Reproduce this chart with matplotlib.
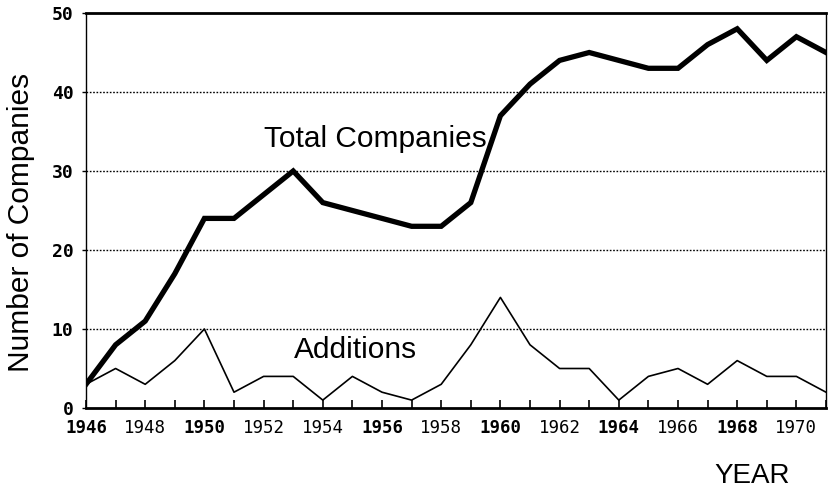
import matplotlib
matplotlib.use("Agg")
import matplotlib.pyplot as plt

years = list(range(1946, 1972))
total_companies = [3, 8, 11, 17, 24, 24, 27, 30, 26, 25, 24, 23, 23, 26, 37, 41,
                   44, 45, 44, 43, 43, 46, 48, 44, 47, 45]
additions = [3, 5, 3, 6, 10, 2, 4, 4, 1, 4, 2, 1, 3, 8, 14, 8,
             5, 5, 1, 4, 5, 3, 6, 4, 4, 2]
xtick_labels = ["1946", "1948", "1950", "1952", "1954", "1956", "1958", "1960",
                "1962", "1964", "1966", "1968", "1970"]
bold_labels = {"1946", "1950", "1956", "1960", "1964", "1968"}
ytick_labels = ["0", "10", "20", "30", "40", "50"]

fig = plt.figure(figsize=(8.33, 4.92), dpi=100)
ax = fig.add_axes([86/833, 1 - 408/492, (826-86)/833, (408-13)/492])

ax.plot(years, total_companies, color="black", lw=3.8, solid_joinstyle="miter")
ax.plot(years, additions, color="black", lw=1.2)

ax.set_xlim(1946, 1971)
ax.set_ylim(0, 50)

for yv in [10, 20, 30, 40]:
    ax.axhline(yv, color="black", lw=1.0, ls=(0, (1.2, 1.2)), zorder=0)

ax.set_xticks(years, minor=True)
ax.set_xticks([int(l) for l in xtick_labels])
ax.set_xticklabels(xtick_labels, family="DejaVu Sans Mono", fontsize=12.5)
for t in ax.get_xticklabels():
    if t.get_text() in bold_labels:
        t.set_fontweight("bold")
ax.tick_params(axis="x", which="both", direction="in", length=6, width=1.2, pad=8)
ax.set_yticks([int(v) for v in ytick_labels])
ax.set_yticklabels(ytick_labels, family="DejaVu Sans Mono", fontsize=13, fontweight="bold")
ax.tick_params(axis="y", which="both", direction="out", length=3, width=1.0, pad=6)

ax.spines["bottom"].set_linewidth(2.0)
ax.spines["top"].set_linewidth(2.0)
ax.spines["left"].set_linewidth(1.0)
ax.spines["right"].set_linewidth(1.0)

ax.text(1955.76, 33.0, "Total Companies", family="Liberation Sans", fontsize=21.5,
        ha="center", va="baseline")
ax.text(1955.12, 6.3, "Additions", family="Liberation Sans", fontsize=21.5,
        ha="center", va="baseline")

fig.text(21/833, 1 - 222/492, "Number of Companies", family="Liberation Sans",
         fontsize=21.5, rotation=90, ha="center", va="center")
fig.text(752/833, 1 - 476/492, "YEAR", family="Liberation Sans", fontsize=20,
         ha="center", va="center")

fig.savefig("out.png", dpi=100)
